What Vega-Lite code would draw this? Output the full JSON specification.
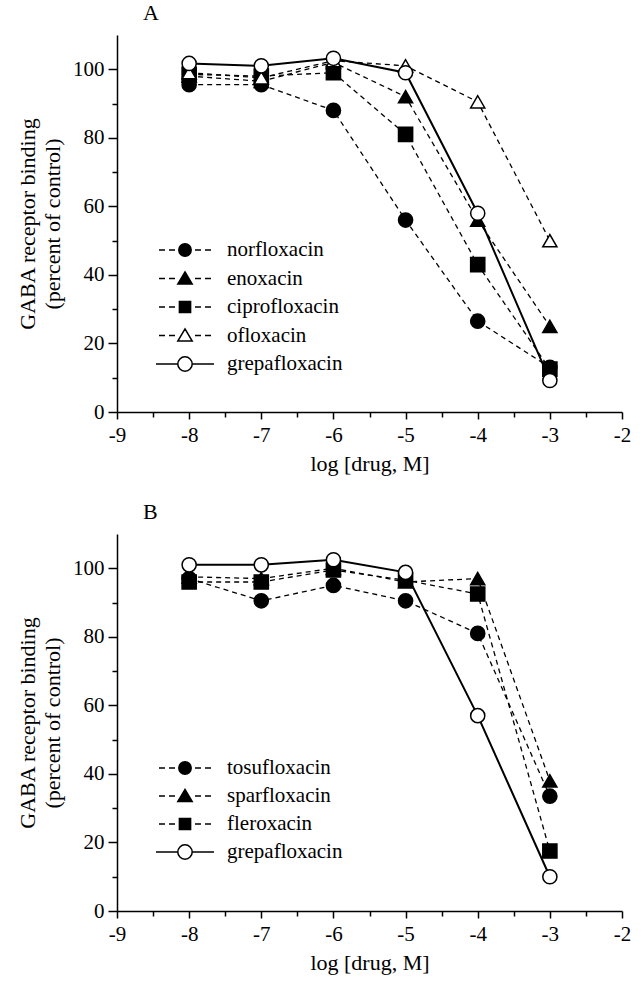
{
  "$schema": "https://vega.github.io/schema/vega-lite/v6.json",
  "background": "white",
  "padding": {"left": 16, "top": 2, "right": 10, "bottom": 5},
  "config": {
    "font": "Liberation Serif",
    "view": {"stroke": null},
    "axis": {
      "domainColor": "black", "domainWidth": 1.5, "tickColor": "black", "tickWidth": 1.5,
      "labelColor": "black", "titleColor": "black", "labelFont": "Liberation Serif", "titleFont": "Liberation Serif",
      "labelFontSize": 21, "titleFontSize": 22, "titleFontWeight": "normal", "grid": false, "labelPadding": 4
    },
    "axisX": {"titlePadding": 8, "labelPadding": 5, "labelFlush": false, "labelOverlap": false},
    "axisY": {"titlePadding": 8, "titleLineHeight": 25, "labelOverlap": false}
  },
  "datasets": {
    "A": [
      {"drug": "norfloxacin", "logdose": -8, "binding": 95.5},
      {"drug": "norfloxacin", "logdose": -7, "binding": 95.5},
      {"drug": "norfloxacin", "logdose": -6, "binding": 88},
      {"drug": "norfloxacin", "logdose": -5, "binding": 56},
      {"drug": "norfloxacin", "logdose": -4, "binding": 26.5},
      {"drug": "norfloxacin", "logdose": -3, "binding": 13},
      {"drug": "enoxacin", "logdose": -8, "binding": 98},
      {"drug": "enoxacin", "logdose": -7, "binding": 96.5},
      {"drug": "enoxacin", "logdose": -6, "binding": 102},
      {"drug": "enoxacin", "logdose": -5, "binding": 92},
      {"drug": "enoxacin", "logdose": -4, "binding": 56},
      {"drug": "enoxacin", "logdose": -3, "binding": 25},
      {"drug": "ciprofloxacin", "logdose": -8, "binding": 98.5},
      {"drug": "ciprofloxacin", "logdose": -7, "binding": 98},
      {"drug": "ciprofloxacin", "logdose": -6, "binding": 99},
      {"drug": "ciprofloxacin", "logdose": -5, "binding": 81},
      {"drug": "ciprofloxacin", "logdose": -4, "binding": 43},
      {"drug": "ciprofloxacin", "logdose": -3, "binding": 12.5},
      {"drug": "ofloxacin", "logdose": -8, "binding": 99},
      {"drug": "ofloxacin", "logdose": -7, "binding": 97.5},
      {"drug": "ofloxacin", "logdose": -6, "binding": 102.5},
      {"drug": "ofloxacin", "logdose": -5, "binding": 101},
      {"drug": "ofloxacin", "logdose": -4, "binding": 90.5},
      {"drug": "ofloxacin", "logdose": -3, "binding": 50},
      {"drug": "grepafloxacin", "logdose": -8, "binding": 101.7},
      {"drug": "grepafloxacin", "logdose": -7, "binding": 101},
      {"drug": "grepafloxacin", "logdose": -6, "binding": 103.2},
      {"drug": "grepafloxacin", "logdose": -5, "binding": 99},
      {"drug": "grepafloxacin", "logdose": -4, "binding": 58},
      {"drug": "grepafloxacin", "logdose": -3, "binding": 9.2}
    ],
    "B": [
      {"drug": "tosufloxacin", "logdose": -8, "binding": 97},
      {"drug": "tosufloxacin", "logdose": -7, "binding": 90.5},
      {"drug": "tosufloxacin", "logdose": -6, "binding": 95},
      {"drug": "tosufloxacin", "logdose": -5, "binding": 90.5},
      {"drug": "tosufloxacin", "logdose": -4, "binding": 81},
      {"drug": "tosufloxacin", "logdose": -3, "binding": 33.5},
      {"drug": "sparfloxacin", "logdose": -8, "binding": 97.5},
      {"drug": "sparfloxacin", "logdose": -7, "binding": 97},
      {"drug": "sparfloxacin", "logdose": -6, "binding": 100},
      {"drug": "sparfloxacin", "logdose": -5, "binding": 96},
      {"drug": "sparfloxacin", "logdose": -4, "binding": 97},
      {"drug": "sparfloxacin", "logdose": -3, "binding": 38},
      {"drug": "fleroxacin", "logdose": -8, "binding": 96},
      {"drug": "fleroxacin", "logdose": -7, "binding": 96},
      {"drug": "fleroxacin", "logdose": -6, "binding": 99.5},
      {"drug": "fleroxacin", "logdose": -5, "binding": 96.5},
      {"drug": "fleroxacin", "logdose": -4, "binding": 92.5},
      {"drug": "fleroxacin", "logdose": -3, "binding": 17.5},
      {"drug": "grepafloxacin", "logdose": -8, "binding": 101},
      {"drug": "grepafloxacin", "logdose": -7, "binding": 101},
      {"drug": "grepafloxacin", "logdose": -6, "binding": 102.5},
      {"drug": "grepafloxacin", "logdose": -5, "binding": 98.8},
      {"drug": "grepafloxacin", "logdose": -4, "binding": 57},
      {"drug": "grepafloxacin", "logdose": -3, "binding": 10}
    ]
  },
  "spacing": 27,
  "resolve": {
    "scale": {"x": "independent", "y": "independent", "shape": "independent", "fill": "independent"},
    "legend": {"shape": "independent", "fill": "independent"}
  },
  "vconcat": [
    {
      "width": 505, "height": 377,
      "title": {"text": "A", "anchor": "start", "frame": "group", "dx": 26, "offset": 10, "fontSize": 22, "font": "Liberation Serif", "fontWeight": "normal", "color": "black"},
      "data": {"name": "A"},
      "encoding": {
        "x": {"field": "logdose", "type": "quantitative", "scale": {"domain": [-9, -2], "nice": false},
          "axis": {"values": [-9, -8.5, -8, -7.5, -7, -6.5, -6, -5.5, -5, -4.5, -4, -3.5, -3, -2.5, -2],
            "labelExpr": "datum.value % 1 === 0 ? '-' + abs(datum.value) : ''",
            "tickSize": {"condition": {"test": "datum.value % 1 !== 0", "value": 5}, "value": 7},
            "title": "log [drug, M]"}},
        "y": {"field": "binding", "type": "quantitative", "scale": {"domain": [0, 110], "nice": false},
          "axis": {"values": [0, 10, 20, 30, 40, 50, 60, 70, 80, 90, 100],
            "labelExpr": "datum.value % 20 === 0 ? datum.label : ''",
            "tickSize": {"condition": {"test": "datum.value % 20 !== 0", "value": 5}, "value": 9},
            "title": ["GABA receptor binding", "(percent of control)"]}}
      },
      "layer": [
        {"transform": [{"filter": "datum.drug !== 'grepafloxacin'"}],
         "mark": {"type": "line", "color": "black", "strokeWidth": 1.3, "strokeDash": [5, 4]},
         "encoding": {"detail": {"field": "drug"}}},
        {"transform": [{"filter": "datum.drug === 'grepafloxacin'"}],
         "mark": {"type": "line", "color": "black", "strokeWidth": 2}},
        {"mark": {"type": "point", "stroke": "black", "strokeWidth": 1.5, "size": 200, "opacity": 1},
         "encoding": {
           "shape": {"field": "drug", "type": "nominal",
             "scale": {"domain": ["grepafloxacin", "norfloxacin", "enoxacin", "ciprofloxacin", "ofloxacin"], "range": ["circle", "circle", "triangle-up", "square", "triangle-up"]},
             "legend": null},
           "fill": {"field": "drug", "type": "nominal",
             "scale": {"domain": ["norfloxacin", "enoxacin", "ciprofloxacin", "ofloxacin", "grepafloxacin"], "range": ["black", "black", "black", "white", "white"]},
             "legend": {"title": null, "orient": "none", "legendX": 57, "legendY": 204, "padding": 0, "rowPadding": 7.5,
               "labelFont": "Liberation Serif", "labelFontSize": 21, "labelColor": "black", "labelOffset": 31, "labelLimit": 300,
               "symbolSize": 400, "symbolStrokeColor": "black", "symbolStrokeWidth": 1.5, "symbolOpacity": 1,
               "encode": {"symbols": {"update": {"stroke": {"value": "black"}, "strokeWidth": {"value": 1.5}, "shape": {"signal": "datum.value === 'grepafloxacin' ? 'M-2.9,0H-0.72M0.72,0H2.9M0.72,0A0.72,0.72,0,1,1,-0.72,0A0.72,0.72,0,1,1,0.72,0Z' : datum.value === 'norfloxacin' ? 'M-2.6,0H-2.0M-1.6,0H-1.0M1.0,0H1.6M2.0,0H2.6M0.62,0A0.62,0.62,0,1,1,-0.62,0A0.62,0.62,0,1,1,0.62,0Z' : datum.value === 'ciprofloxacin' ? 'M-2.6,0H-2.0M-1.6,0H-1.0M1.0,0H1.6M2.0,0H2.6M-0.56,-0.56H0.56V0.56H-0.56Z' : 'M-2.6,0H-2.0M-1.6,0H-1.0M1.0,0H1.6M2.0,0H2.6M0,-0.66L0.72,0.56L-0.72,0.56Z'"}}}}}}
         }}
      ]
    },
    {
      "width": 505, "height": 377,
      "title": {"text": "B", "anchor": "start", "frame": "group", "dx": 26, "offset": 10, "fontSize": 22, "font": "Liberation Serif", "fontWeight": "normal", "color": "black"},
      "data": {"name": "B"},
      "encoding": {
        "x": {"field": "logdose", "type": "quantitative", "scale": {"domain": [-9, -2], "nice": false},
          "axis": {"values": [-9, -8.5, -8, -7.5, -7, -6.5, -6, -5.5, -5, -4.5, -4, -3.5, -3, -2.5, -2],
            "labelExpr": "datum.value % 1 === 0 ? '-' + abs(datum.value) : ''",
            "tickSize": {"condition": {"test": "datum.value % 1 !== 0", "value": 5}, "value": 7},
            "title": "log [drug, M]"}},
        "y": {"field": "binding", "type": "quantitative", "scale": {"domain": [0, 110], "nice": false},
          "axis": {"values": [0, 10, 20, 30, 40, 50, 60, 70, 80, 90, 100],
            "labelExpr": "datum.value % 20 === 0 ? datum.label : ''",
            "tickSize": {"condition": {"test": "datum.value % 20 !== 0", "value": 5}, "value": 9},
            "title": ["GABA receptor binding", "(percent of control)"]}}
      },
      "layer": [
        {"transform": [{"filter": "datum.drug !== 'grepafloxacin'"}],
         "mark": {"type": "line", "color": "black", "strokeWidth": 1.3, "strokeDash": [5, 4]},
         "encoding": {"detail": {"field": "drug"}}},
        {"transform": [{"filter": "datum.drug === 'grepafloxacin'"}],
         "mark": {"type": "line", "color": "black", "strokeWidth": 2}},
        {"mark": {"type": "point", "stroke": "black", "strokeWidth": 1.5, "size": 200, "opacity": 1},
         "encoding": {
           "shape": {"field": "drug", "type": "nominal",
             "scale": {"domain": ["grepafloxacin", "tosufloxacin", "sparfloxacin", "fleroxacin"], "range": ["circle", "circle", "triangle-up", "square"]},
             "legend": null},
           "fill": {"field": "drug", "type": "nominal",
             "scale": {"domain": ["tosufloxacin", "sparfloxacin", "fleroxacin", "grepafloxacin"], "range": ["black", "black", "black", "white"]},
             "legend": {"title": null, "orient": "none", "legendX": 57, "legendY": 223, "padding": 0, "rowPadding": 7,
               "labelFont": "Liberation Serif", "labelFontSize": 21, "labelColor": "black", "labelOffset": 31, "labelLimit": 300,
               "symbolSize": 400, "symbolStrokeColor": "black", "symbolStrokeWidth": 1.5, "symbolOpacity": 1,
               "encode": {"symbols": {"update": {"stroke": {"value": "black"}, "strokeWidth": {"value": 1.5}, "shape": {"signal": "datum.value === 'grepafloxacin' ? 'M-2.9,0H-0.72M0.72,0H2.9M0.72,0A0.72,0.72,0,1,1,-0.72,0A0.72,0.72,0,1,1,0.72,0Z' : datum.value === 'tosufloxacin' ? 'M-2.6,0H-2.0M-1.6,0H-1.0M1.0,0H1.6M2.0,0H2.6M0.62,0A0.62,0.62,0,1,1,-0.62,0A0.62,0.62,0,1,1,0.62,0Z' : datum.value === 'fleroxacin' ? 'M-2.6,0H-2.0M-1.6,0H-1.0M1.0,0H1.6M2.0,0H2.6M-0.56,-0.56H0.56V0.56H-0.56Z' : 'M-2.6,0H-2.0M-1.6,0H-1.0M1.0,0H1.6M2.0,0H2.6M0,-0.66L0.72,0.56L-0.72,0.56Z'"}}}}}}
         }}
      ]
    }
  ]
}
